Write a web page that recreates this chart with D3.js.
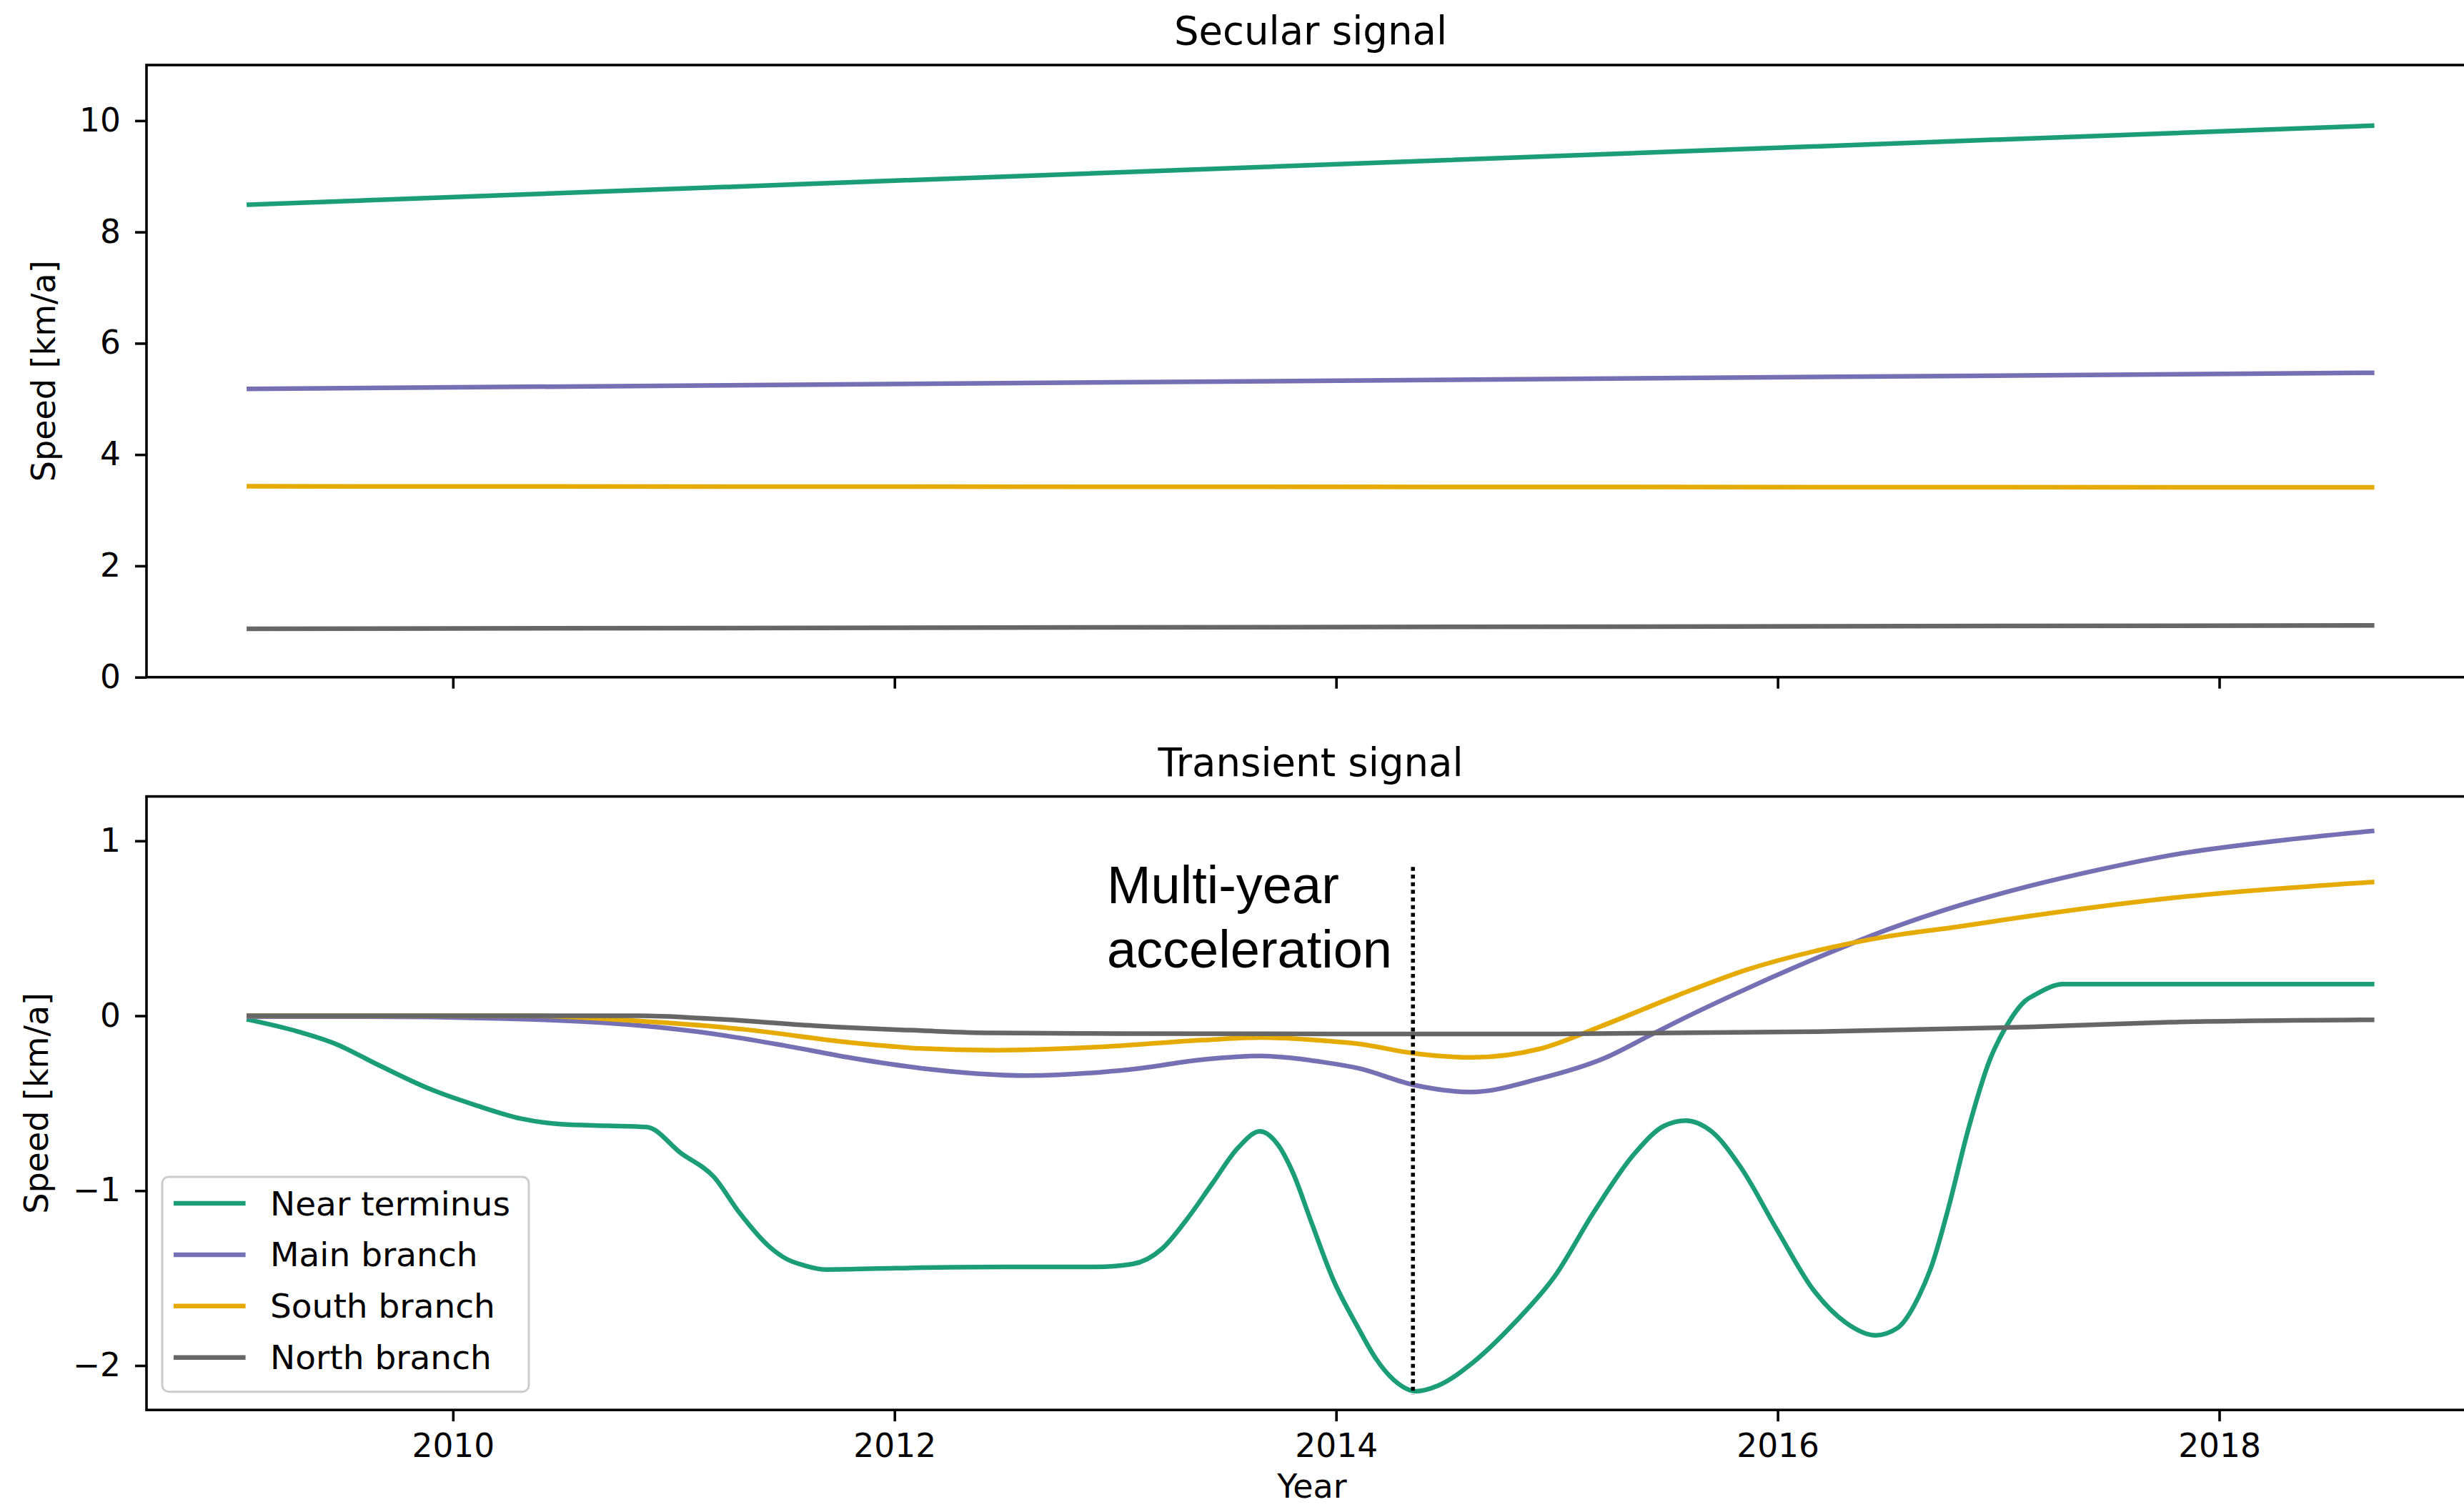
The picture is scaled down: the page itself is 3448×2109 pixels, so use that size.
<!DOCTYPE html>
<html>
<head>
<meta charset="utf-8">
<script src="https://cdn.jsdelivr.net/npm/d3@7"></script>
<style>
  html, body { margin: 0; padding: 0; background: #ffffff; }
  svg { display: block; }
  text { font-family: "DejaVu Sans", sans-serif; fill: #000; }
</style>
</head>
<body>
<script>
// ---- Data -------------------------------------------------------------
const seriesNames  = ["Near terminus", "Main branch", "South branch", "North branch"];
const seriesColors = ["#1b9e77", "#7570b3", "#e6ab02", "#666666"];

// Secular (linear trend) signal, km/a, at first and last epoch
const secularYears         = [2009.076, 2018.692];
const secularNearTerminus  = [8.49, 9.91];
const secularMainBranch    = [5.18, 5.47];
const secularSouthBranch   = [3.43, 3.41];
const secularNorthBranch   = [0.87, 0.93];

// Transient signal, [year, km/a]
const transientNearTerminus = [
  [2009.076, -0.023], [2009.30, -0.091], [2009.465, -0.159], [2009.663, -0.282],
  [2009.894, -0.418], [2010.109, -0.514], [2010.307, -0.588], [2010.489, -0.620],
  [2010.703, -0.629], [2010.877, -0.636], [2011.033, -0.786], [2011.182, -0.922],
  [2011.298, -1.127], [2011.43, -1.317], [2011.51, -1.390], [2011.592, -1.428],
  [2011.69, -1.451], [2012.004, -1.443], [2012.50, -1.436], [2012.91, -1.436],
  [2013.077, -1.42], [2013.21, -1.334], [2013.325, -1.162], [2013.44, -0.958],
  [2013.556, -0.755], [2013.655, -0.661], [2013.738, -0.74], [2013.804, -0.896],
  [2013.887, -1.177], [2013.986, -1.506], [2014.098, -1.78], [2014.18, -1.96],
  [2014.263, -2.084], [2014.362, -2.147], [2014.461, -2.115], [2014.627, -1.975],
  [2014.808, -1.756], [2014.99, -1.49], [2015.171, -1.115], [2015.353, -0.786],
  [2015.485, -0.63], [2015.584, -0.599], [2015.70, -0.661], [2015.832, -0.865],
  [2015.997, -1.224], [2016.162, -1.568], [2016.31, -1.756], [2016.443, -1.827],
  [2016.542, -1.786], [2016.641, -1.60], [2016.70, -1.42], [2016.774, -1.096],
  [2016.861, -0.66], [2016.962, -0.248], [2017.034, -0.064], [2017.121, 0.085],
  [2017.164, 0.119], [2017.294, 0.181], [2018.692, 0.181]
];
const transientMainBranch = [
  [2009.076, -0.005], [2009.6, -0.005], [2010.2, -0.015], [2010.68, -0.04],
  [2011.16, -0.10], [2011.5, -0.17], [2011.8, -0.24], [2012.12, -0.30],
  [2012.6, -0.342], [2013.08, -0.305], [2013.4, -0.250], [2013.655, -0.230],
  [2013.94, -0.265], [2014.1, -0.30], [2014.35, -0.395], [2014.61, -0.436],
  [2014.92, -0.36], [2015.22, -0.24], [2015.42, -0.113], [2015.54, -0.036],
  [2015.86, 0.155], [2016.18, 0.332], [2016.50, 0.494], [2016.82, 0.63],
  [2017.135, 0.74], [2017.455, 0.835], [2017.775, 0.917], [2018.255, 0.999],
  [2018.692, 1.056]
];
const transientSouthBranch = [
  [2009.076, 0.0], [2010.36, 0.0], [2010.84, -0.03], [2011.32, -0.078],
  [2011.80, -0.153], [2012.12, -0.187], [2012.44, -0.197], [2012.92, -0.179],
  [2013.40, -0.139], [2013.66, -0.125], [2013.94, -0.142], [2014.1, -0.16],
  [2014.35, -0.214], [2014.62, -0.238], [2014.92, -0.19], [2015.2, -0.06],
  [2015.54, 0.113], [2015.86, 0.263], [2016.18, 0.373], [2016.50, 0.454],
  [2016.82, 0.51], [2017.135, 0.569], [2017.775, 0.672], [2018.692, 0.764]
];
const transientNorthBranch = [
  [2009.076, 0.0], [2010.84, 0.0], [2011.16, -0.016], [2011.64, -0.057],
  [2012.12, -0.085], [2012.44, -0.098], [2013.0, -0.102], [2014.0, -0.104],
  [2015.0, -0.104], [2016.18, -0.091], [2017.135, -0.064], [2017.775, -0.037],
  [2018.692, -0.023]
];

const secularTicks   = [0, 2, 4, 6, 8, 10];
const transientTicks = [-2, -1, 0, 1];
const yearTicks      = [2010, 2012, 2014, 2016, 2018];

// Marker for the onset of the multi-year acceleration
const markerYear       = 2014.348;
const markerSpan       = [-2.166, 0.851];
const markerLabel      = ["Multi-year", "acceleration"];
const markerLabelYear  = 2012.962;
const markerLabelSpeed = [0.644, 0.277];

// ---- Layout -------------------------------------------------------------
const W = 3448, H = 2109;
const plotLeft = 205, plotRight = 3467;
const topPanel = { top: 91, bottom: 947.7 };
const botPanel = { top: 1114.6, bottom: 1973.2 };
const lineWidth = 6.5;
const spineWidth = 3.6;
const tickFont = 45.5;
const legendFont = 47;

const svg = d3.select("body").append("svg")
  .attr("width", W).attr("height", H)
  .attr("viewBox", `0 0 ${W} ${H}`);

const x = d3.scaleLinear().domain([2008.612, 2019.17]).range([plotLeft, plotRight]);
const ySec = d3.scaleLinear().domain([0, 11]).range([topPanel.bottom, topPanel.top]);
const yTra = d3.scaleLinear().domain([-2.254, 1.254]).range([botPanel.bottom, botPanel.top]);

function styleAxis(g) {
  g.select(".domain").remove();
  g.selectAll(".tick line").attr("stroke", "#000").attr("stroke-width", spineWidth);
  g.selectAll(".tick text")
    .attr("font-family", "DejaVu Sans")
    .attr("font-size", tickFont)
    .attr("fill", "#000");
}

function drawFrame(panel) {
  svg.append("rect")
    .attr("x", plotLeft).attr("y", panel.top)
    .attr("width", plotRight - plotLeft).attr("height", panel.bottom - panel.top)
    .attr("fill", "none").attr("stroke", "#000").attr("stroke-width", spineWidth);
}

// ---- Top panel: secular signal ------------------------------------------
const secularSeries = [secularNearTerminus, secularMainBranch, secularSouthBranch, secularNorthBranch];
const secLine = d3.line().x(d => x(d[0])).y(d => ySec(d[1]));
secularSeries.forEach((vals, i) => {
  svg.append("path")
    .datum(secularYears.map((yr, k) => [yr, vals[k]]))
    .attr("d", secLine)
    .attr("fill", "none")
    .attr("stroke", seriesColors[i])
    .attr("stroke-width", lineWidth)
    .attr("stroke-linecap", "square");
});

svg.append("g")
  .attr("transform", `translate(${plotLeft},0)`)
  .call(d3.axisLeft(ySec).tickValues(secularTicks).tickSize(16).tickPadding(20).tickFormat(d3.format("d")))
  .call(styleAxis);

svg.append("g")
  .attr("transform", `translate(0,${topPanel.bottom})`)
  .call(d3.axisBottom(x).tickValues(yearTicks).tickSize(16).tickFormat(""))
  .call(styleAxis);

drawFrame(topPanel);

svg.append("text")
  .attr("x", 1834).attr("y", 62)
  .attr("text-anchor", "middle")
  .attr("font-size", 54.5)
  .text("Secular signal");

svg.append("text")
  .attr("transform", `translate(76.5,${(topPanel.top + topPanel.bottom) / 2}) rotate(-90)`)
  .attr("text-anchor", "middle")
  .attr("font-size", 46)
  .text("Speed [km/a]");

// ---- Bottom panel: transient signal -------------------------------------
const transientSeries = [transientNearTerminus, transientMainBranch, transientSouthBranch, transientNorthBranch];
const traLine = d3.line().x(d => x(d[0])).y(d => yTra(d[1])).curve(d3.curveMonotoneX);
transientSeries.forEach((pts, i) => {
  svg.append("path")
    .datum(pts)
    .attr("d", traLine)
    .attr("fill", "none")
    .attr("stroke", seriesColors[i])
    .attr("stroke-width", lineWidth)
    .attr("stroke-linejoin", "round")
    .attr("stroke-linecap", "square");
});

// dotted marker line
svg.append("line")
  .attr("x1", x(markerYear)).attr("x2", x(markerYear))
  .attr("y1", yTra(markerSpan[1])).attr("y2", yTra(markerSpan[0]))
  .attr("stroke", "#000")
  .attr("stroke-width", 5.5)
  .attr("stroke-dasharray", "5.5 5.2");

const markerText = svg.append("text")
  .attr("font-size", 74)
  .style("font-family", "'Liberation Sans', Arial, sans-serif");
markerLabel.forEach((s, i) => {
  markerText.append("tspan")
    .attr("x", x(markerLabelYear))
    .attr("y", yTra(markerLabelSpeed[i]))
    .text(s);
});

svg.append("g")
  .attr("transform", `translate(${plotLeft},0)`)
  .call(d3.axisLeft(yTra).tickValues(transientTicks).tickSize(16).tickPadding(20).tickFormat(d3.format("d")))
  .call(styleAxis);

svg.append("g")
  .attr("transform", `translate(0,${botPanel.bottom})`)
  .call(d3.axisBottom(x).tickValues(yearTicks).tickSize(16).tickPadding(18).tickFormat(d3.format("d")))
  .call(styleAxis);

drawFrame(botPanel);

svg.append("text")
  .attr("x", 1834).attr("y", 1086)
  .attr("text-anchor", "middle")
  .attr("font-size", 54.5)
  .text("Transient signal");

svg.append("text")
  .attr("transform", `translate(67.3,${(botPanel.top + botPanel.bottom) / 2}) rotate(-90)`)
  .attr("text-anchor", "middle")
  .attr("font-size", 46)
  .text("Speed [km/a]");

svg.append("text")
  .attr("x", 1836).attr("y", 2096)
  .attr("text-anchor", "middle")
  .attr("font-size", 46)
  .text("Year");

// ---- Legend -------------------------------------------------------------
const legend = svg.append("g").attr("transform", "translate(227,1647)");
legend.append("rect")
  .attr("width", 513).attr("height", 300.7)
  .attr("rx", 9).attr("ry", 9)
  .attr("fill", "#ffffff").attr("fill-opacity", 0.8)
  .attr("stroke", "#cccccc").attr("stroke-width", 3);
seriesNames.forEach((name, i) => {
  const cy = 37 + i * 71.9;
  legend.append("line")
    .attr("x1", 16).attr("x2", 116.6)
    .attr("y1", cy).attr("y2", cy)
    .attr("stroke", seriesColors[i])
    .attr("stroke-width", lineWidth);
  legend.append("text")
    .attr("x", 151).attr("y", cy + 16.5)
    .attr("font-size", legendFont)
    .text(name);
});
</script>
</body>
</html>
